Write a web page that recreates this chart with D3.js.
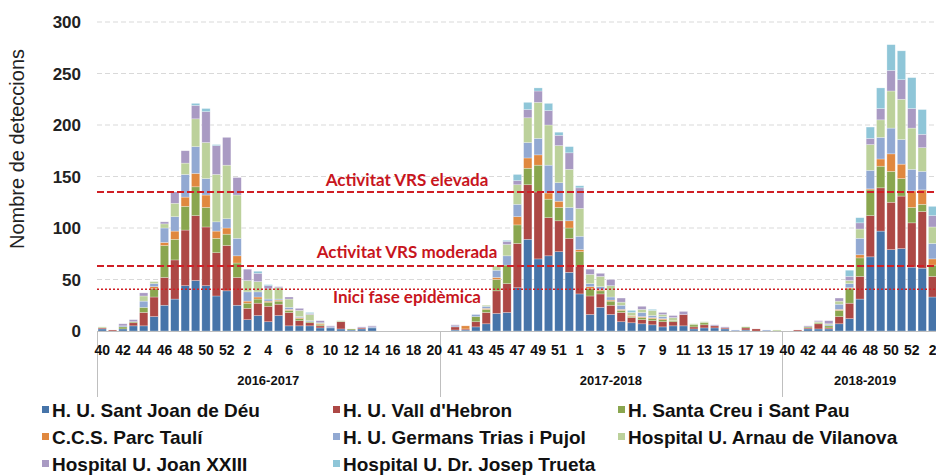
<!DOCTYPE html>
<html>
<head>
<meta charset="utf-8">
<script src="https://cdn.jsdelivr.net/npm/d3@7"></script>
<style>
  body { margin: 0; background: #fff; }
  svg { display: block; font-family: 'Liberation Sans', Arial, sans-serif; }
</style>
</head>
<body>
<div id="chart"></div>
<script>
// seasons and weeks (categories)
const seasons = ['2016-2017', '2017-2018', '2018-2019']
const weeks1617 = [40, 41, 42, 43, 44, 45, 46, 47, 48, 49, 50, 51, 52, 1, 2, 3, 4, 5, 6, 7, 8, 9, 10, 11, 12, 13, 14, 15, 16, 17, 18, 19, 20]
const weeks1718 = [40, 41, 42, 43, 44, 45, 46, 47, 48, 49, 50, 51, 52, 1, 2, 3, 4, 5, 6, 7, 8, 9, 10, 11, 12, 13, 14, 15, 16, 17, 18, 19, 20]
const weeks1819 = [40, 41, 42, 43, 44, 45, 46, 47, 48, 49, 50, 51, 52, 1, 2, 3]

const hospitals = [
  'H. U. Sant Joan de Déu', 'H. U. Vall d\'Hebron', 'H. Santa Creu i Sant Pau',
  'C.C.S. Parc Taulí', 'H. U. Germans Trias i Pujol', 'Hospital U. Arnau de Vilanova',
  'Hospital U. Joan XXIII', 'Hospital U. Dr. Josep Trueta'
]
const colors = ['#4674a9', '#ad4845', '#8aa64f', '#e0883f', '#92a9d2', '#bcd19b', '#a99ac3', '#8fc6d8']

// detections per week: 2016-2017 (33) | 2017-2018 (33) | 2018-2019 (16)
const santJoan = [
  2, 0, 2, 5, 5, 14, 25, 31, 44, 49, 44, 34, 39, 25, 11, 15, 9, 15, 5, 5, 5, 3, 3, 2, 1, 2, 3, 0, 0, 0, 0, 0, 0,
  0, 1, 1, 4, 7, 17, 18, 42, 89, 70, 73, 77, 57, 36, 16, 23, 16, 9, 8, 7, 6, 4, 5, 5, 2, 3, 3, 2, 0, 1, 0, 0, 0,
  0, 0, 2, 2, 2, 7, 12, 31, 72, 97, 79, 80, 62, 61, 33, 0]
const vallHebron = [
  1, 1, 0, 3, 13, 19, 27, 38, 54, 63, 57, 42, 44, 27, 11, 12, 15, 11, 13, 5, 3, 2, 0, 7, 0, 1, 0, 0, 0, 0, 0, 0, 0,
  0, 3, 1, 5, 11, 22, 28, 43, 53, 65, 37, 30, 33, 27, 18, 13, 9, 9, 5, 4, 4, 5, 4, 11, 2, 3, 2, 1, 0, 2, 2, 0, 0,
  0, 1, 1, 5, 1, 7, 15, 22, 40, 42, 46, 51, 43, 55, 20, 0]
const santPau = [
  0, 0, 2, 1, 5, 8, 31, 20, 23, 28, 19, 14, 11, 14, 5, 4, 4, 3, 2, 2, 1, 1, 0, 0, 1, 0, 0, 0, 0, 0, 0, 0, 0,
  0, 0, 0, 5, 3, 11, 18, 18, 16, 26, 18, 13, 10, 14, 7, 3, 4, 2, 1, 2, 2, 2, 1, 0, 2, 2, 0, 0, 0, 1, 0, 0, 0,
  0, 0, 1, 1, 2, 6, 14, 18, 25, 21, 30, 17, 15, 7, 11, 0]
const parcTauli = [
  0, 0, 0, 0, 0, 2, 3, 8, 9, 13, 12, 7, 6, 7, 2, 2, 1, 1, 1, 1, 0, 1, 0, 0, 0, 0, 0, 0, 0, 0, 0, 0, 0,
  0, 0, 3, 0, 1, 2, 0, 8, 10, 10, 6, 6, 7, 2, 2, 1, 1, 1, 1, 1, 1, 1, 0, 0, 0, 0, 0, 0, 0, 0, 0, 0, 0,
  0, 0, 0, 0, 0, 1, 1, 3, 1, 7, 17, 14, 16, 14, 6, 0]
const germansTrias = [
  0, 0, 1, 0, 6, 3, 14, 14, 22, 26, 16, 9, 9, 17, 9, 5, 2, 1, 2, 1, 1, 0, 1, 0, 0, 0, 1, 0, 0, 0, 0, 0, 0,
  0, 1, 0, 2, 2, 7, 9, 12, 15, 16, 27, 18, 13, 13, 3, 3, 3, 4, 0, 4, 2, 2, 0, 0, 0, 0, 0, 0, 1, 0, 0, 1, 0,
  0, 0, 0, 0, 1, 5, 4, 16, 18, 21, 25, 24, 21, 18, 15, 0]
const arnau = [
  1, 0, 0, 0, 5, 2, 4, 13, 11, 27, 35, 46, 52, 42, 11, 10, 10, 11, 8, 6, 6, 1, 0, 1, 0, 0, 0, 0, 0, 0, 0, 0, 0,
  0, 0, 0, 0, 1, 4, 11, 19, 24, 35, 39, 36, 37, 27, 9, 10, 11, 3, 3, 3, 5, 2, 3, 0, 1, 1, 0, 0, 0, 0, 0, 0, 1,
  0, 0, 0, 1, 1, 3, 3, 9, 25, 17, 36, 39, 40, 23, 16, 0]
const joanXXIII = [
  0, 0, 2, 2, 3, 0, 2, 11, 12, 13, 30, 28, 27, 17, 11, 8, 3, 1, 2, 2, 1, 2, 1, 0, 0, 1, 1, 0, 0, 0, 0, 0, 0,
  0, 1, 0, 0, 0, 0, 3, 4, 8, 11, 14, 10, 16, 20, 5, 3, 6, 4, 0, 3, 0, 2, 2, 3, 0, 0, 1, 1, 0, 0, 0, 0, 0,
  0, 0, 1, 1, 3, 3, 4, 6, 6, 11, 20, 19, 19, 13, 11, 0]
const trueta = [
  0, 0, 0, 0, 0, 0, 0, 0, 0, 2, 3, 1, 0, 0, 0, 2, 1, 0, 0, 0, 1, 0, 0, 0, 0, 0, 0, 0, 0, 0, 0, 0, 0,
  0, 0, 0, 0, 0, 0, 1, 6, 7, 3, 7, 3, 6, 2, 0, 0, 0, 0, 2, 0, 1, 0, 0, 0, 0, 0, 0, 0, 0, 0, 0, 0, 0,
  0, 0, 0, 0, 0, 0, 6, 5, 11, 20, 25, 28, 30, 24, 9, 0]

// threshold lines
const thresholds = [135, 63, 40.5]
const thresholdLabels = ['Activitat VRS elevada', 'Activitat VRS moderada', 'Inici fase epidèmica']
const thresholdDash = ['7,3', '7,3', '2,2']

const yTicks = [0, 50, 100, 150, 200, 250, 300]

const width = 936
const height = 475
const margin = { left: 97, top: 22, bottom: 331 }
const step = 10.38

const seasonWeeks = [weeks1617, weeks1718, weeks1819]
const series = [santJoan, vallHebron, santPau, parcTauli, germansTrias, arnau, joanXXIII, trueta]

// build rows
const rows = []
seasonWeeks.forEach((wk, s) => {
  wk.forEach((w, i) => {
    rows.push({ key: seasons[s] + '-' + w + '-' + i, week: w, season: s })
  })
})
rows.forEach((r, i) => { hospitals.forEach((h, k) => { r[h] = series[k][i] }) })

const svg = d3.select('#chart').append('svg')
  .attr('width', width)
  .attr('height', height)

const x = d3.scaleBand()
  .domain(rows.map(d => d.key))
  .range([margin.left, margin.left + rows.length * step])
  .paddingInner(0.2)
  .paddingOuter(0.1)

const y = d3.scaleLinear().domain([0, 300]).range([margin.bottom, margin.top])

// gridlines
svg.append('g')
  .selectAll('line')
  .data(yTicks.filter(d => d > 0))
  .enter().append('line')
  .attr('x1', margin.left)
  .attr('x2', width)
  .attr('y1', d => y(d))
  .attr('y2', d => y(d))
  .attr('stroke', '#d9d9d9')
  .attr('stroke-dasharray', '5,3')

// y labels
svg.append('g')
  .selectAll('text')
  .data(yTicks)
  .enter().append('text')
  .attr('x', 81)
  .attr('y', d => y(d) + 6)
  .attr('text-anchor', 'end')
  .attr('font-size', 17)
  .attr('font-weight', 'bold')
  .attr('fill', '#222')
  .text(d => d)

svg.append('text')
  .attr('transform', 'translate(24,' + 149 + ') rotate(-90)')
  .attr('text-anchor', 'middle')
  .attr('font-size', 20)
  .attr('fill', '#222')
  .text('Nombre de deteccions')

// stacked bars
const stack = d3.stack().keys(hospitals)
const layers = stack(rows)

svg.append('g')
  .selectAll('g')
  .data(layers)
  .enter().append('g')
  .attr('fill', (d, i) => colors[i])
  .selectAll('rect')
  .data(d => d.filter(p => p[1] - p[0] > 0))
  .enter().append('rect')
  .attr('x', d => x(d.data.key))
  .attr('y', d => y(d[1]))
  .attr('width', x.bandwidth())
  .attr('height', d => y(d[0]) - y(d[1]))
  .attr('stroke', 'rgba(255,255,255,0.45)')
  .attr('stroke-width', 0.6)

// category axis
const axisG = svg.append('g').attr('stroke', '#bfbfbf')
axisG.append('line')
  .attr('x1', margin.left).attr('x2', width)
  .attr('y1', margin.bottom + 0.5).attr('y2', margin.bottom + 0.5)

const seasonBounds = seasons.map((s, i) => {
  const r = rows.filter(d => d.season === i)
  const x0 = x(r[0].key) - x.step() * x.paddingInner() / 2
  const x1 = x(r[r.length - 1].key) + x.bandwidth() + x.step() * x.paddingInner() / 2
  return { s, x0, x1 }
})
axisG.selectAll('.sep')
  .data(seasonBounds)
  .enter().append('line')
  .attr('x1', d => Math.round(d.x0) + 0.5)
  .attr('x2', d => Math.round(d.x0) + 0.5)
  .attr('y1', margin.bottom)
  .attr('y2', 397)

svg.append('g')
  .selectAll('text')
  .data(rows.filter((d, i) => i % 2 === 0))
  .enter().append('text')
  .attr('x', d => x(d.key) + x.bandwidth() / 2)
  .attr('y', 355)
  .attr('text-anchor', 'middle')
  .attr('font-size', 14)
  .attr('font-weight', 'bold')
  .attr('fill', '#111')
  .text(d => d.week)

svg.append('g')
  .selectAll('text')
  .data(seasonBounds)
  .enter().append('text')
  .attr('x', d => (d.x0 + d.x1) / 2)
  .attr('y', 385)
  .attr('text-anchor', 'middle')
  .attr('font-size', 13)
  .attr('font-weight', 'bold')
  .attr('fill', '#111')
  .text(d => d.s)

// threshold lines
const thr = svg.append('g')
thr.selectAll('line')
  .data(thresholds)
  .enter().append('line')
  .attr('x1', margin.left)
  .attr('x2', width)
  .attr('y1', d => y(d))
  .attr('y2', d => y(d))
  .attr('stroke', '#d01f25')
  .attr('stroke-width', (d, i) => i < 2 ? 2 : 1.5)
  .attr('stroke-dasharray', (d, i) => thresholdDash[i])

const labelOffset = [-6, -8, 14]
thr.selectAll('text')
  .data(thresholds)
  .enter().append('text')
  .attr('x', 407)
  .attr('y', (d, i) => y(d) + labelOffset[i])
  .attr('text-anchor', 'middle')
  .attr('font-family', 'Lato, sans-serif')
  .attr('font-weight', 'bold')
  .attr('font-size', 17)
  .attr('fill', '#c8151d')
  .text((d, i) => thresholdLabels[i])

// legend
const legendX = [42, 333, 618]
const legendY = [410, 437, 464]
const legend = svg.append('g')
  .selectAll('g')
  .data(hospitals)
  .enter().append('g')
  .attr('transform', (d, i) => `translate(${legendX[i % 3]},${legendY[Math.floor(i / 3)]})`)

legend.append('rect')
  .attr('x', 0).attr('y', -4)
  .attr('width', 7).attr('height', 7)
  .attr('fill', (d, i) => colors[i])

legend.append('text')
  .attr('x', 10)
  .attr('y', 7)
  .attr('font-size', 19)
  .attr('font-weight', 'bold')
  .attr('fill', '#111')
  .text(d => d)
</script>
</body>
</html>
